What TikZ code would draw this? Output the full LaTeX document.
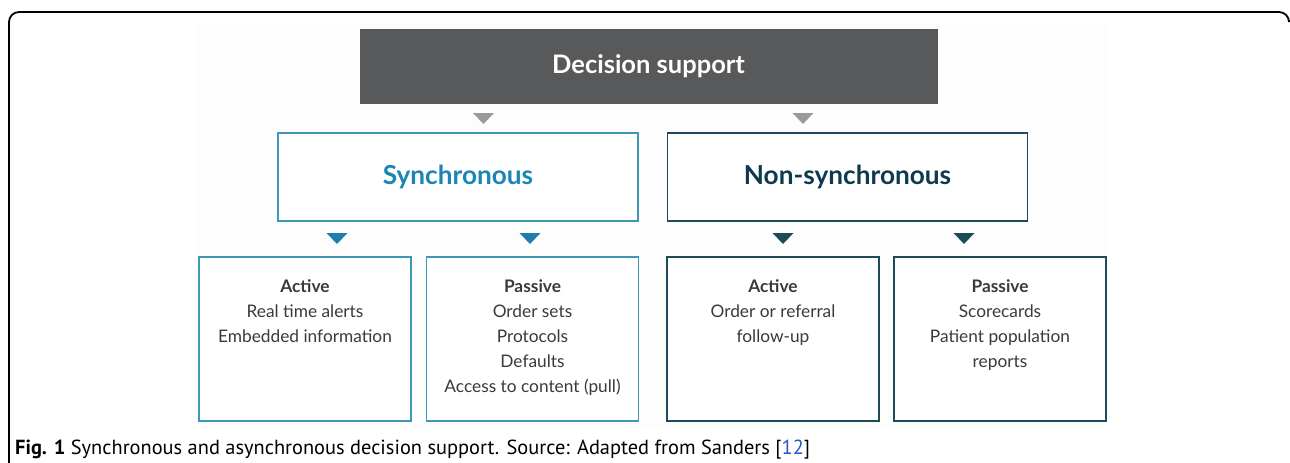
\documentclass[tikz,border=0pt]{standalone}
\usepackage{fontspec}
\setmainfont{Lato}
\newfontfamily\capfont{PT Sans}
\usepackage{xcolor}
\usetikzlibrary{positioning}

\definecolor{topgray}{HTML}{58595B}
\definecolor{arrgray}{HTML}{9A9A9C}
\definecolor{syncblue}{HTML}{3E97B5}
\definecolor{synctext}{HTML}{1B86B6}
\definecolor{syncarr}{HTML}{1F7DAE}
\definecolor{nsdark}{HTML}{1E4A5A}
\definecolor{nstext}{HTML}{0F3A4E}
\definecolor{bodytext}{HTML}{3A3A3A}
\definecolor{reflink}{HTML}{2A4FD0}

\begin{document}
\begin{tikzpicture}[
    x=1pt, y=-1pt,
    every node/.style={font=\fontsize{17.3}{25}\selectfont, text=bodytext},
    head/.style={rectangle, fill=topgray, draw=topgray,
                 minimum width=577pt, minimum height=74pt, inner sep=0pt,
                 text=white, font=\fontsize{25.5}{25}\selectfont\bfseries},
    sync/.style={rectangle, draw=syncblue, line width=1.6pt, fill=white,
                 minimum width=360pt, minimum height=88pt, inner sep=0pt,
                 text=synctext, font=\fontsize{26.2}{25}\selectfont\bfseries},
    nsync/.style={sync, draw=nsdark, text=nstext},
    leaf/.style={rectangle, draw=syncblue, line width=1.6pt, fill=white,
                 minimum width=212pt, minimum height=164pt, inner sep=0pt},
    nleaf/.style={leaf, draw=nsdark},
    txt/.style={anchor=north, align=center, inner sep=0pt},
    frame/.style={line width=1.8pt, black, rounded corners=10pt}
]
\useasboundingbox (0,0) rectangle (1290,463);
% frame and light backdrop
\draw[frame] (9,463) -- (9,12) -- (1289,12) -- (1289,20);
\fill[black!0.7] (198,24) rectangle (1106,428);

% boxes
\node[head]  (ds)  at (648.5,66) {Decision support};
\node[sync]  (syn) at (458,177)  {Synchronous};
\node[nsync] (non) at (847.5,177) {Non-synchronous};
\node[leaf]  (sa)  at (305,339)  {};
\node[leaf]  (sp)  at (532.5,339) {};
\node[nleaf] (na)  at (773,339)  {};
\node[nleaf] (np)  at (1000,339) {};

% leaf texts
\node[txt] (saT) at ([yshift=-23pt]sa.north) {\textbf{Active}\\Real time alerts\\Embedded information};
\node[txt] (spT) at ([yshift=-23pt]sp.north) {\textbf{Passive}\\Order sets\\Protocols\\Defaults\\Access to content (pull)};
\node[txt] (naT) at ([yshift=-23pt]na.north) {\textbf{Active}\\Order or referral\\follow-up};
\node[txt] (npT) at ([yshift=-23pt]np.north) {\textbf{Passive}\\Scorecards\\Patient population\\reports};

% triangles
\foreach \x/\y/\c in {483.5/113/arrgray, 803/113/arrgray,
                      337/233/syncarr, 530/233/syncarr,
                      783/233/nsdark, 964/233/nsdark}
  \fill[\c] (\x-10.5,\y) -- (\x+10.5,\y) -- (\x,\y+11) -- cycle;

% caption
\node[anchor=base west, inner sep=0pt, text=black,
      font=\capfont\fontsize{20.4}{22}\selectfont] (cap) at (15,454)
  {\textbf{Fig. 1} Synchronous and asynchronous decision support. Source: Adapted from Sanders [{\color{reflink}12}]};
\end{tikzpicture}
\end{document}
